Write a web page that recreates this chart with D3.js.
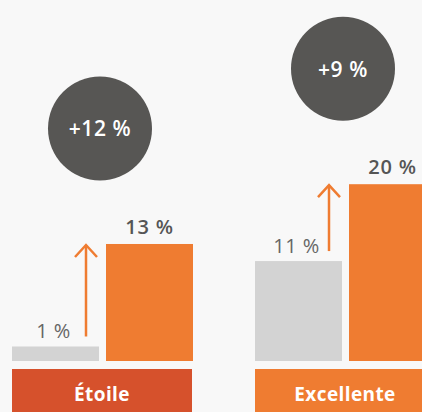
<!DOCTYPE html>
<html>
  <head>
    <meta charset="utf-8">
    <script src="https://d3js.org/d3.v7.min.js"></script>
    <style>
      html, body { margin: 0; padding: 0; background: #f8f8f8; overflow: hidden; }
      svg { display: block; font-family: "Open Sans", sans-serif; }
    </style>
  </head>
  <body>
    <svg width="422" height="412"></svg>
    <script>
      // data
      var categories = ["Étoile", "Excellente"];
      var before = [1, 11];
      var after = [13, 20];
      var deltas = ["+12 %", "+9 %"];
      var bandColors = ["#d6512c", "#ef7c31"];

      var svg = d3.select("svg");

      var x = d3.scaleBand().domain(categories).range([12, 435]).paddingInner(0.2593);
      var xs = d3.scaleBand().domain(["before", "after"]).range([0, 181]).paddingInner(0.0745);
      var y = d3.scaleLinear().domain([-0.7, 20]).range([361, 184.2]);

      var groups = svg.selectAll("g.group")
        .data(categories)
        .enter()
        .append("g")
          .attr("class", "group")
          .attr("transform", d => "translate(" + x(d) + ",0)");

      // grey bars (before)
      groups.append("rect")
        .attr("x", xs("before"))
        .attr("y", (d, i) => y(before[i]))
        .attr("width", xs.bandwidth())
        .attr("height", (d, i) => y(-0.7) - y(before[i]))
        .attr("fill", "#d3d3d3");

      // orange bars (after)
      groups.append("rect")
        .attr("x", xs("after"))
        .attr("y", (d, i) => y(after[i]))
        .attr("width", xs.bandwidth())
        .attr("height", (d, i) => y(-0.7) - y(after[i]))
        .attr("fill", "#ef7c31");

      groups.append("text")
        .attr("x", xs("before") + xs.bandwidth() / 2 - 2)
        .attr("y", (d, i) => y(before[i]) - 8)
        .attr("text-anchor", "middle")
        .attr("font-size", 20)
        .attr("letter-spacing", 0.5)
        .attr("fill", "#666")
        .text((d, i) => before[i] + " %");

      groups.append("text")
        .attr("x", xs("after") + xs.bandwidth() / 2)
        .attr("y", (d, i) => y(after[i]) - 10)
        .attr("text-anchor", "middle")
        .attr("font-size", 20)
        .attr("font-weight", 600)
        .attr("letter-spacing", 0.8)
        .attr("fill", "#555")
        .text((d, i) => after[i] + " %");

      // arrows
      var ax = xs("before") + xs.bandwidth() - 13;
      groups.append("line")
        .attr("x1", ax).attr("x2", ax)
        .attr("y1", (d, i) => y(before[i]) - 10)
        .attr("y2", (d, i) => y(after[i]) + 1)
        .attr("stroke", "#ef7c31")
        .attr("stroke-width", 2.5);

      groups.append("path")
        .attr("d", (d, i) => {
          var t = y(after[i]) + 1;
          return "M" + (ax - 11) + "," + (t + 12) + "L" + ax + "," + t + "L" + (ax + 11) + "," + (t + 12);
        })
        .attr("fill", "none")
        .attr("stroke", "#ef7c31")
        .attr("stroke-width", 2.5);

      // circles with the change
      groups.append("circle")
        .attr("cx", x.bandwidth() / 2 - 2)
        .attr("cy", (d, i) => y(after[i]) - 115.5)
        .attr("r", 52)
        .attr("fill", "#575654");

      groups.append("text")
        .attr("x", x.bandwidth() / 2 - 2)
        .attr("y", (d, i) => y(after[i]) - 115.5 + 8)
        .attr("text-anchor", "middle")
        .attr("font-size", 21)
        .attr("font-weight", 600)
        .attr("letter-spacing", 0.6)
        .attr("fill", "#fff")
        .text((d, i) => deltas[i]);

      // category label bands
      groups.append("rect")
        .attr("x", 0)
        .attr("y", 369)
        .attr("width", x.bandwidth())
        .attr("height", 50)
        .attr("fill", (d, i) => bandColors[i]);

      groups.append("text")
        .attr("x", x.bandwidth() / 2)
        .attr("y", 401)
        .attr("text-anchor", "middle")
        .attr("font-size", 19)
        .attr("font-weight", 700)
        .attr("letter-spacing", 0.4)
        .attr("fill", "#fff")
        .text(d => d);
    </script>
  </body>
</html>
